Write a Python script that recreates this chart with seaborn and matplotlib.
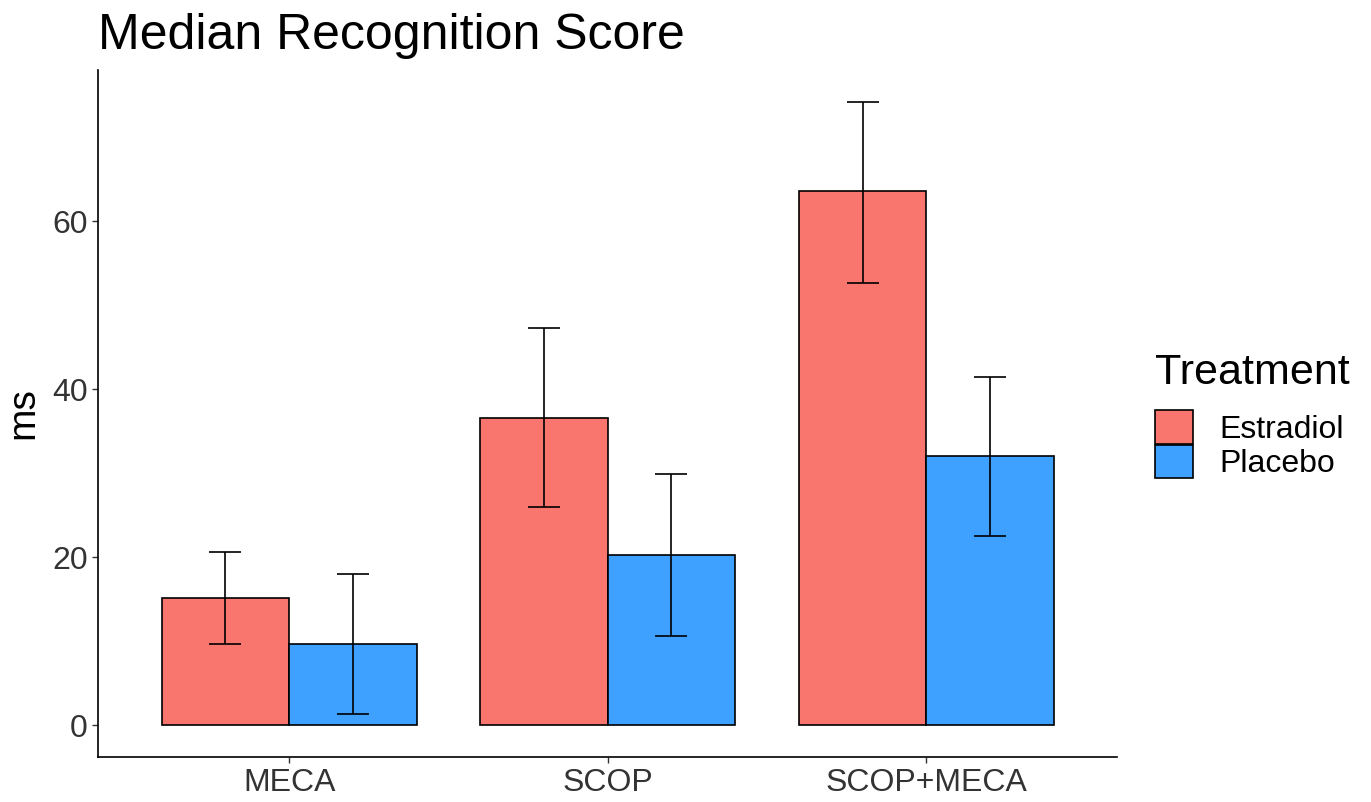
import numpy as np
import pandas as pd
import matplotlib
matplotlib.use("Agg")
import matplotlib.pyplot as plt
import seaborn as sns

# データ
groups = ["MECA", "SCOP", "SCOP+MECA"]
treatments = ["Estradiol", "Placebo"]
estradiol_median = [15.1, 36.5, 63.6]
placebo_median = [9.6, 20.2, 32.0]
estradiol_low = [9.6, 26.0, 52.6]
estradiol_high = [20.6, 47.3, 74.2]
placebo_low = [1.3, 10.6, 22.5]
placebo_high = [18.0, 29.9, 41.4]

colors = ["#F8766D", "#3EA0FF"]

df = pd.DataFrame({
    "group": groups * 2,
    "Treatment": ["Estradiol"] * 3 + ["Placebo"] * 3,
    "ms": estradiol_median + placebo_median,
    "low": estradiol_low + placebo_low,
    "high": estradiol_high + placebo_high,
})

sns.set_style("white")
plt.rcParams["font.family"] = ["Liberation Sans", "DejaVu Sans"]

fig = plt.figure(figsize=(13.71, 8.02), dpi=100)
ax = fig.add_axes([0.0715, 0.056, 0.7435, 0.857])

sns.barplot(data=df, x="group", y="ms", hue="Treatment", order=groups,
            hue_order=treatments, palette=colors, width=0.8, errorbar=None,
            edgecolor="black", linewidth=1.2, saturation=1, ax=ax)

# エラーバー（棒の中心から位置を取得）
bars = [p for p in ax.patches if p.get_height() > 0]
for tr_i, tr in enumerate(treatments):
    sub = df[df["Treatment"] == tr].set_index("group").loc[groups]
    tr_bars = bars[tr_i * 3:(tr_i + 1) * 3]
    xs = [b.get_x() + b.get_width() / 2 for b in tr_bars]
    ys = sub["ms"].values
    yerr = np.vstack([ys - sub["low"].values, sub["high"].values - ys])
    ax.errorbar(xs, ys, yerr=yerr, fmt="none", ecolor="black",
                elinewidth=1.2, capsize=11.5, capthick=1.2)

ax.set_xlim(-0.6, 2.6)
ax.set_ylim(-3.8, 78)
ax.set_yticks([0, 20, 40, 60])
ax.set_xlabel("")
ax.set_ylabel("ms", fontsize=28, color="black", labelpad=8)
ax.tick_params(axis="both", labelsize=23, colors="#333333", length=4,
               width=1, left=True, bottom=True, labelcolor="#333333")
for s in ["top", "right"]:
    ax.spines[s].set_visible(False)
for s in ["left", "bottom"]:
    ax.spines[s].set_color("black")
    ax.spines[s].set_linewidth(1.2)

fig.text(0.0715, 0.955, "Median Recognition Score", fontsize=36,
         ha="left", va="center", color="black")

leg = ax.legend(title="Treatment", loc="center left",
                bbox_to_anchor=(0.8425, 0.481), bbox_transform=fig.transFigure,
                frameon=False, fontsize=23, title_fontsize=31,
                handlelength=1.2, handleheight=1.25, labelspacing=0.0,
                handletextpad=0.8, borderpad=0, borderaxespad=0)
leg._legend_box.align = "left"
leg._legend_box.sep = 12
for t in leg.get_texts():
    t.set_color("black")
leg.get_title().set_color("black")

fig.savefig("out.png", dpi=100)
